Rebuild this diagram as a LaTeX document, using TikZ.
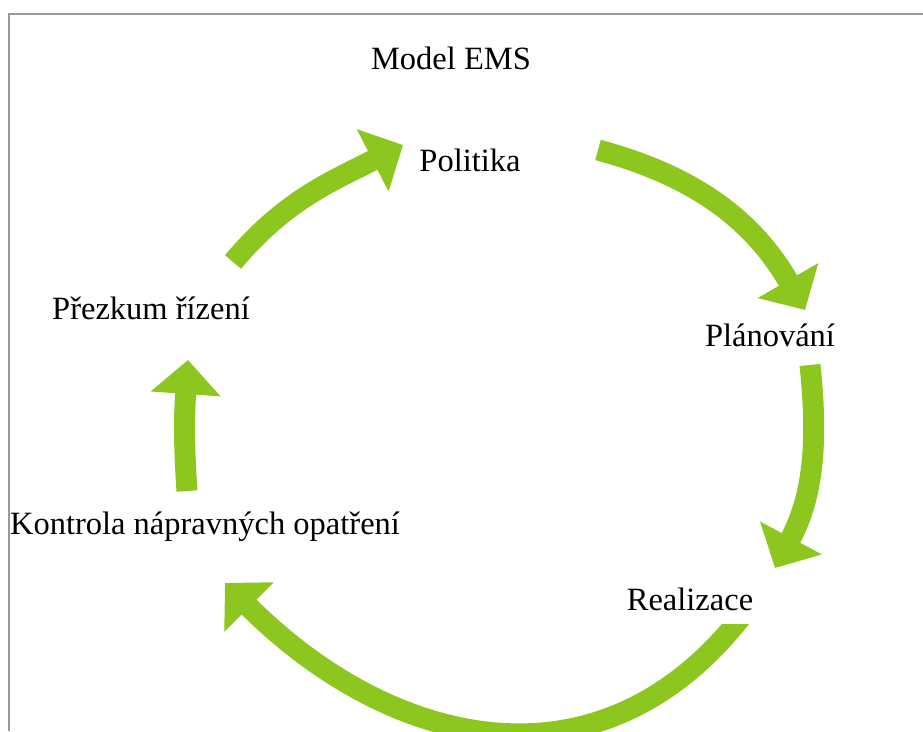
\documentclass[tikz,border=0pt]{standalone}
\usepackage{fontspec}
\setmainfont{Liberation Serif}
\usepackage{tikz}
\usetikzlibrary{arrows.meta,backgrounds}

\definecolor{leaf}{RGB}{140,198,30}

\begin{document}
\begin{tikzpicture}[
  x=1pt, y=1pt,
  stage/.style={fill=white, inner xsep=8pt, inner ysep=14pt, anchor=base, font=\fontsize{32.5}{38}\selectfont},
  swirl/.style={draw=leaf, line width=21pt, -{Triangle[length=34pt,width=68pt]}},
  frame/.style={draw=black!40, line width=2pt}
]
\useasboundingbox (0,0) rectangle (923,731);

\node[stage] (title) at (451,661) {Model EMS};
\node[stage] (pol) at (470,559) {Politika};
\node[stage] (plan) at (770,384) {Plánování};
\node[stage] (real) at (690,121) {Realizace};
\node[stage] (kon) at (205,196) {Kontrola nápravných opatření};
\node[stage] (prez) at (151,411) {Přezkum řízení};

\draw[frame] (9,0) |- (923,717);

\begin{scope}[on background layer]
\draw[swirl] ([shift={(82,58)}]prez.base) to[out=50, in=207] ([shift={(-67,27)}]pol.base);
\draw[swirl] ([shift={(128,22)}]pol.base) to[out=-15, in=120] ([shift={(35,37)}]plan.base);
\draw[swirl] ([shift={(40,-18)}]plan.base) to[out=-84, in=62] ([shift={(85,42)}]real.base);
\draw[swirl] ([shift={(52,-6)}]real.base) to[out=-128, in=-45, looseness=1.15] ([shift={(20,-48)}]kon.base);
\draw[swirl] ([shift={(-18,44)}]kon.base) to[out=94, in=-94] ([shift={(37,-40)}]prez.base);
\end{scope}

\end{tikzpicture}
\end{document}
